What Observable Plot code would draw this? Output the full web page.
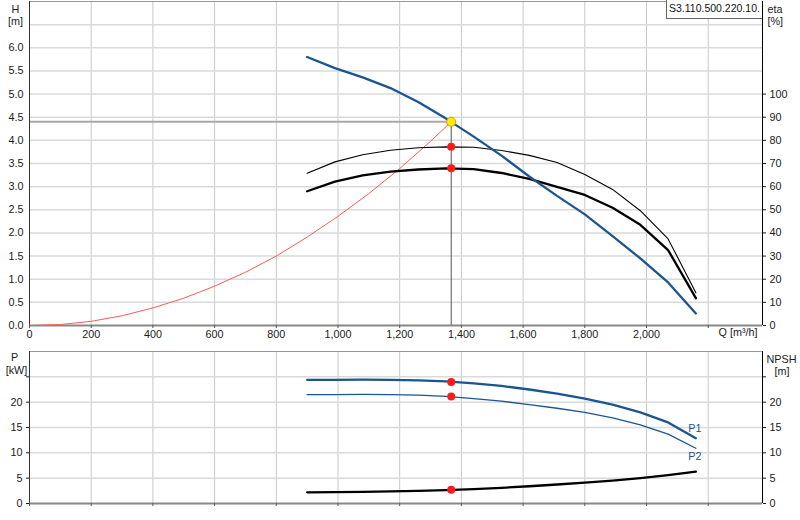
<!DOCTYPE html>
<html><head><meta charset="utf-8">
<script src="https://cdn.jsdelivr.net/npm/d3@7"></script>
<script src="https://cdn.jsdelivr.net/npm/@observablehq/plot@0.6"></script>
<style>
body{margin:0;background:#fff;}
#wrap{position:relative;width:800px;height:520px;overflow:hidden;font-family:"Liberation Sans",Arial,sans-serif;}
#topChart,#botChart{position:absolute;left:0;}
#topChart{top:0}
#botChart{top:345px}
#pump{position:absolute;left:666px;top:0;width:96px;height:19px;border:1px solid #666;border-top:none;border-right:none;background:#fff;font-size:10.5px;line-height:17px;padding-left:2px;box-sizing:border-box;white-space:nowrap;overflow:hidden;color:#111;}
</style></head><body>
<div id="wrap"><div id="topChart"></div><div id="botChart"></div><div id="pump"></div></div>
<script>
// ---- data ----
const flow   = [900, 990, 1080, 1170, 1260, 1350, 1440, 1530, 1620, 1710, 1800, 1890, 1980, 2070, 2160];
const head   = [5.80, 5.56, 5.36, 5.13, 4.83, 4.47, 4.08, 3.67, 3.22, 2.80, 2.40, 1.93, 1.45, 0.93, 0.26];
const etaThin  = [65.8, 70.7, 73.8, 75.7, 76.8, 77.2, 77.0, 75.6, 73.5, 70.4, 65.2, 58.8, 49.6, 37.4, 14.2];
const etaThick = [58.0, 62.2, 64.9, 66.5, 67.4, 67.9, 67.6, 65.9, 63.4, 59.9, 56.4, 50.9, 43.5, 32.6, 11.8];
const powerP1 = [24.4, 24.4, 24.45, 24.4, 24.3, 24.1, 23.7, 23.2, 22.5, 21.7, 20.7, 19.5, 18.0, 16.0, 12.9];
const powerP2 = [21.5, 21.5, 21.55, 21.5, 21.4, 21.15, 20.7, 20.2, 19.5, 18.8, 18.0, 16.9, 15.5, 13.7, 10.9];
const npsh    = [2.2, 2.25, 2.3, 2.4, 2.5, 2.65, 2.85, 3.1, 3.4, 3.75, 4.1, 4.5, 5.0, 5.6, 6.3];
const sysFlow = [0, 100, 200, 300, 400, 500, 600, 700, 800, 900, 1000, 1100, 1200, 1300, 1367];
const sysHead = [0, 0.02, 0.09, 0.21, 0.38, 0.59, 0.85, 1.15, 1.50, 1.91, 2.36, 2.85, 3.39, 3.98, 4.40];
const opFlow = 1367, opHead = 4.4, opEtaThin = 77.2, opEtaThick = 67.9, opP1 = 24.0, opP2 = 21.1, opNpsh = 2.7;
const xTicks = [0, 200, 400, 600, 800, 1000, 1200, 1400, 1600, 1800, 2000, 2200];
const headTicks = [0, 0.5, 1, 1.5, 2, 2.5, 3, 3.5, 4, 4.5, 5, 5.5, 6];
const headGrid = [0.5, 1, 1.5, 2, 2.5, 3, 3.5, 4, 4.5, 5, 5.5, 6, 6.5];
const etaTicks = [0, 10, 20, 30, 40, 50, 60, 70, 80, 90, 100];
const pTicks = [0, 5, 10, 15, 20, 25];
const pGrid = [5, 10, 15, 20, 25];
const pumpName = "S3.110.500.220.10.";
const xMax = 2376, headMax = 7, etaPerHead = 20, pMax = 30;

const rows = flow.map((q, i) => ({q, h: head[i], e1: etaThin[i], e2: etaThick[i], p1: powerP1[i], p2: powerP2[i], n: npsh[i]}));
const sys = sysFlow.map((q, i) => ({q, h: sysHead[i]}));

const blue = "#1b5591";
const font = {fontFamily: "'Liberation Sans', Arial, sans-serif", fontSize: "10.8px", color: "#1a1a1a", background: "#fff", overflow: "visible"};
const comma = d3.format(",");

document.getElementById("pump").textContent = pumpName;

const chartTop = Plot.plot({
  width: 800, height: 345,
  marginLeft: 29, marginRight: 38, marginTop: 1, marginBottom: 20,
  style: font,
  x: {domain: [0, xMax]},
  y: {domain: [0, headMax]},
  marks: [
    Plot.gridX(xTicks, {stroke: "#c8c8c8", strokeOpacity: 1}),
    Plot.gridY(headGrid, {stroke: "#dadada", strokeOpacity: 1, strokeWidth: 1.5}),
    Plot.ruleY([headMax], {stroke: "#999"}),
    Plot.ruleY([opHead], {x1: 0, x2: opFlow, stroke: "#a8a8a8", strokeWidth: 2}),
    Plot.ruleX([opFlow], {y1: 0, y2: opHead, stroke: "#555"}),
    Plot.ruleX([0], {stroke: "#333"}),
    Plot.ruleX([xMax], {stroke: "#000"}),
    Plot.ruleY([0], {stroke: "#888", strokeWidth: 2}),
    Plot.line(sys, {x: "q", y: "h", stroke: "#ff5a5a", strokeWidth: 1}),
    Plot.line(rows, {x: "q", y: d => d.e1 / etaPerHead, stroke: "#000", strokeWidth: 1.1}),
    Plot.line(rows, {x: "q", y: d => d.e2 / etaPerHead, stroke: "#000", strokeWidth: 2.3}),
    Plot.line(rows, {x: "q", y: "h", stroke: blue, strokeWidth: 2.3}),
    Plot.dot([opEtaThin, opEtaThick], {x: () => opFlow, y: d => d / etaPerHead, r: 4, fill: "#ff1a1a"}),
    Plot.dot([opHead], {x: () => opFlow, y: d => d, r: 4.5, fill: "#ffee00", stroke: "#e0a000", strokeWidth: 1}),
    Plot.axisX({ticks: xTicks, tickSize: 3, tickPadding: 2, tickFormat: d => d === 2200 ? "" : comma(d), stroke: "#555", label: null}),
    Plot.axisY({ticks: headTicks, tickSize: 0, tickPadding: 6, tickFormat: d3.format(".1f"), label: null}),
    Plot.axisY({anchor: "right", ticks: etaTicks.map(e => e / etaPerHead), tickSize: 3, tickPadding: 4, tickFormat: d => Math.round(d * etaPerHead), label: null}),
    Plot.text(["Q [m³/h]"], {frameAnchor: "bottom-right", dx: -5, dy: 10, textAnchor: "end"}),
    Plot.text(["H"], {frameAnchor: "top-left", dx: -14, dy: 4, textAnchor: "middle"}),
    Plot.text(["[m]"], {frameAnchor: "top-left", dx: -14, dy: 16, textAnchor: "middle"}),
    Plot.text(["eta"], {frameAnchor: "top-right", dx: 5, dy: 4, textAnchor: "start"}),
    Plot.text(["[%]"], {frameAnchor: "top-right", dx: 5, dy: 16, textAnchor: "start"})
  ]
});
document.getElementById("topChart").append(chartTop);

const chartBot = Plot.plot({
  width: 800, height: 175,
  marginLeft: 29, marginRight: 38, marginTop: 6, marginBottom: 17,
  style: font,
  x: {domain: [0, xMax]},
  y: {domain: [0, pMax]},
  marks: [
    Plot.gridX(xTicks, {stroke: "#c8c8c8", strokeOpacity: 1}),
    Plot.gridY(pGrid, {stroke: "#dadada", strokeOpacity: 1, strokeWidth: 1.5}),
    Plot.ruleY([pMax], {stroke: "#999"}),
    Plot.ruleX([0], {stroke: "#333"}),
    Plot.ruleX([xMax], {stroke: "#000"}),
    Plot.ruleY([0], {stroke: "#888", strokeWidth: 2}),
    Plot.line(rows, {x: "q", y: "p2", stroke: blue, strokeWidth: 1.3}),
    Plot.line(rows, {x: "q", y: "p1", stroke: blue, strokeWidth: 2.3}),
    Plot.line(rows, {x: "q", y: "n", stroke: "#000", strokeWidth: 2.3}),
    Plot.dot([opP1, opP2, opNpsh], {x: () => opFlow, y: d => d, r: 4, fill: "#ff1a1a"}),
    Plot.text([{q: flow[flow.length - 1], p: powerP1[powerP1.length - 1], t: "P1"}], {x: "q", y: "p", text: "t", dx: -1, dy: -10, fill: blue, fontSize: 10.8}),
    Plot.text([{q: flow[flow.length - 1], p: powerP2[powerP2.length - 1], t: "P2"}], {x: "q", y: "p", text: "t", dx: -1, dy: 8, fill: blue, fontSize: 10.8}),
    Plot.axisX({ticks: xTicks, tickSize: 3, tickFormat: () => "", stroke: "#555", label: null}),
    Plot.axisY({ticks: pTicks, tickSize: 3, tickPadding: 4, tickFormat: d => d === 25 ? "" : d, label: null}),
    Plot.axisY({anchor: "right", ticks: pTicks, tickSize: 3, tickPadding: 4, tickFormat: d => d === 25 ? "" : d, label: null}),
    Plot.text(["P"], {frameAnchor: "top-left", dx: -15, dy: 2, textAnchor: "middle"}),
    Plot.text(["[kW]"], {frameAnchor: "top-left", dx: -13, dy: 15, textAnchor: "middle"}),
    Plot.text(["NPSH"], {frameAnchor: "top-right", dx: 4, dy: 4, textAnchor: "start"}),
    Plot.text(["[m]"], {frameAnchor: "top-right", dx: 12, dy: 16, textAnchor: "start"})
  ]
});
document.getElementById("botChart").append(chartBot);
</script>
</body></html>
